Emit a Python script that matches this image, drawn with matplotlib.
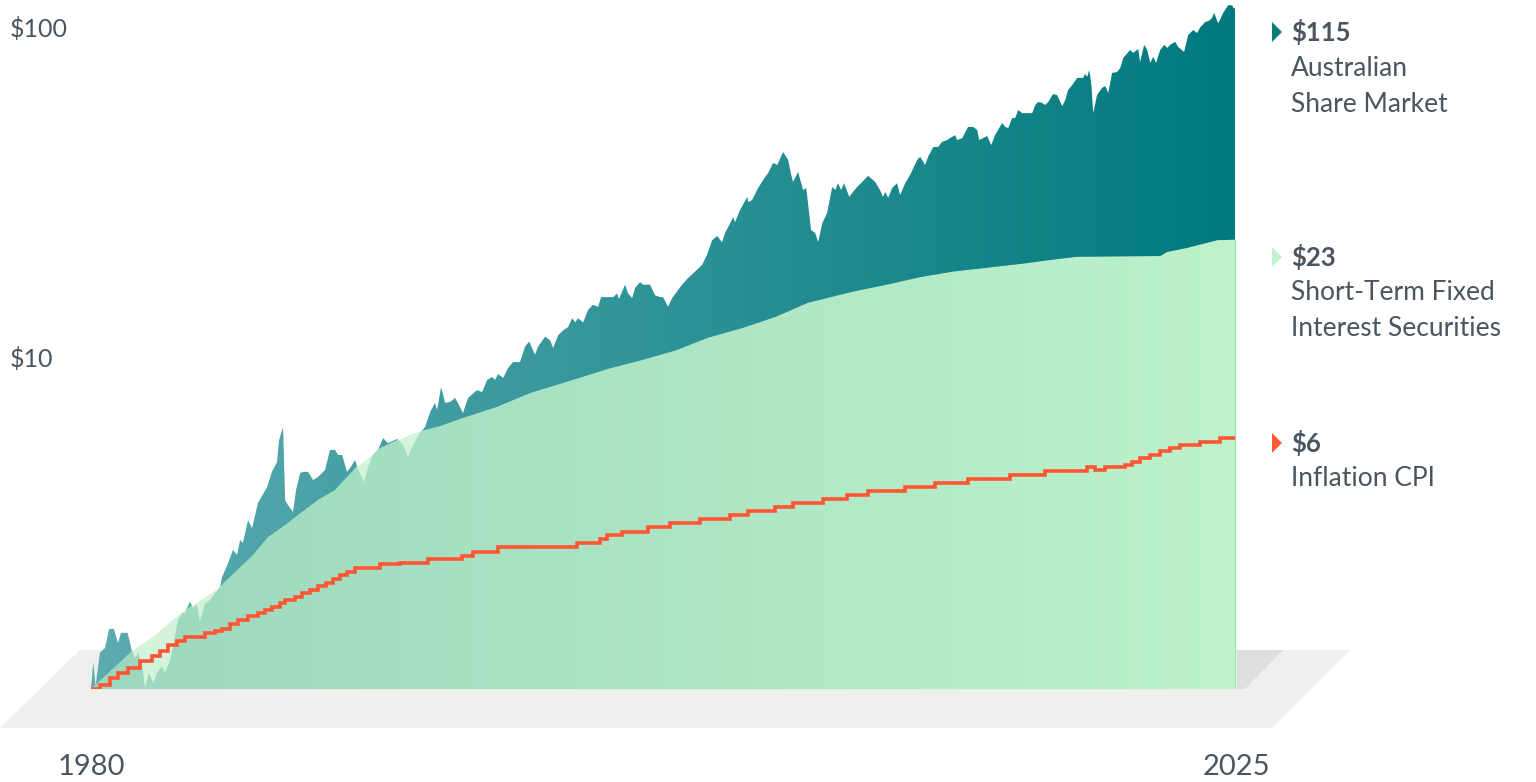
import numpy as np
import matplotlib
matplotlib.use("Agg")
import matplotlib.pyplot as plt
from matplotlib.colors import LinearSegmentedColormap
from matplotlib.patches import Polygon
from matplotlib.transforms import blended_transform_factory

# growth of $1 since 1980
share_years = [
    1980.00, 1980.09, 1980.18, 1980.35, 1980.55, 1980.71, 1980.90, 1981.06, 1981.18, 1981.44,
    1981.60, 1981.73, 1981.85, 1982.00, 1982.12, 1982.28, 1982.44, 1982.59, 1982.79, 1982.91,
    1983.11, 1983.22, 1983.42, 1983.58, 1983.69, 1983.89, 1984.01, 1984.17, 1984.28, 1984.48,
    1984.68, 1984.87, 1985.07, 1985.15, 1985.39, 1985.58, 1985.74, 1985.86, 1985.97, 1986.17,
    1986.33, 1986.56, 1986.92, 1987.11, 1987.31, 1987.39, 1987.55, 1987.63, 1987.74, 1987.94,
    1988.06, 1988.22, 1988.33, 1988.53, 1988.73, 1988.92, 1989.20, 1989.39, 1989.59, 1989.71,
    1989.87, 1990.06, 1990.18, 1990.38, 1990.50, 1990.73, 1990.89, 1991.08, 1991.28, 1991.48,
    1991.67, 1992.03, 1992.22, 1992.46, 1992.66, 1992.93, 1993.13, 1993.33, 1993.52, 1993.60,
    1993.76, 1993.92, 1994.11, 1994.31, 1994.50, 1994.62, 1994.82, 1995.17, 1995.37, 1995.57,
    1995.76, 1995.88, 1996.00, 1996.20, 1996.39, 1996.59, 1996.86, 1997.06, 1997.22, 1997.33,
    1997.45, 1997.57, 1997.85, 1998.04, 1998.16, 1998.36, 1998.55, 1998.75, 1998.91, 1999.03,
    1999.14, 1999.34, 1999.54, 1999.73, 1999.93, 2000.05, 2000.52, 2000.68, 2000.75, 2000.99,
    2001.11, 2001.27, 2001.38, 2001.58, 2001.70, 2001.97, 2002.17, 2002.37, 2002.48, 2002.68,
    2002.84, 2003.23, 2003.47, 2003.74, 2004.02, 2004.21, 2004.41, 2004.61, 2004.80, 2004.92,
    2005.24, 2005.31, 2005.51, 2005.79, 2005.83, 2005.98, 2006.22, 2006.42, 2006.61, 2006.81,
    2006.97, 2007.20, 2007.40, 2007.52, 2007.59, 2007.79, 2007.99, 2008.11, 2008.30, 2008.46,
    2008.58, 2008.74, 2008.93, 2009.13, 2009.25, 2009.36, 2009.48, 2009.60, 2009.80, 2009.95,
    2010.11, 2010.31, 2010.54, 2010.82, 2011.01, 2011.13, 2011.21, 2011.33, 2011.49, 2011.68,
    2011.80, 2012.00, 2012.19, 2012.47, 2012.59, 2012.78, 2012.90, 2013.10, 2013.29, 2013.45,
    2013.65, 2013.76, 2013.96, 2014.04, 2014.24, 2014.47, 2014.67, 2014.83, 2014.91, 2015.06,
    2015.22, 2015.38, 2015.53, 2015.81, 2015.93, 2016.05, 2016.20, 2016.32, 2016.44, 2016.60,
    2016.99, 2017.11, 2017.22, 2017.38, 2017.50, 2017.62, 2017.81, 2017.97, 2018.17, 2018.29,
    2018.40, 2018.56, 2018.76, 2018.99, 2019.07, 2019.15, 2019.23, 2019.31, 2019.39, 2019.54,
    2019.74, 2019.86, 2019.98, 2020.13, 2020.33, 2020.45, 2020.57, 2020.84, 2020.96, 2021.16,
    2021.23, 2021.39, 2021.51, 2021.63, 2021.75, 2021.86, 2022.02, 2022.18, 2022.30, 2022.41,
    2022.61, 2022.73, 2022.96, 2023.12, 2023.32, 2023.47, 2023.59, 2023.79, 2023.95, 2024.06,
    2024.14, 2024.30, 2024.50, 2024.69, 2024.85, 2024.89, 2025.00,
]
share_values = [
    1.00, 1.21, 1.02, 1.29, 1.33, 1.52, 1.52, 1.38, 1.48, 1.48,
    1.31, 1.24, 1.29, 1.20, 1.01, 1.12, 1.04, 1.12, 1.17, 1.12,
    1.22, 1.34, 1.62, 1.70, 1.70, 1.84, 1.76, 1.80, 1.60, 1.82,
    1.86, 1.95, 2.04, 2.18, 2.41, 2.64, 2.55, 2.83, 2.77, 3.25,
    3.07, 3.66, 4.09, 4.55, 4.87, 5.68, 6.22, 3.74, 3.61, 3.44,
    4.01, 4.51, 4.55, 4.55, 4.30, 4.39, 4.61, 5.30, 5.30, 5.12,
    5.12, 4.55, 4.67, 4.94, 4.61, 4.24, 4.71, 5.12, 5.30, 5.76,
    5.56, 5.72, 5.56, 5.05, 5.49, 5.97, 6.22, 6.91, 7.36, 7.00,
    8.23, 7.36, 7.41, 7.62, 7.16, 6.86, 7.62, 8.05, 7.94, 8.64,
    8.82, 8.64, 9.01, 8.76, 9.39, 9.79, 9.79, 10.9, 11.3, 10.8,
    10.3, 10.9, 11.7, 11.4, 10.8, 11.8, 12.2, 12.5, 13.3, 12.9,
    13.3, 12.9, 14.1, 14.6, 14.4, 15.4, 15.4, 15.8, 15.2, 16.8,
    15.8, 15.3, 16.4, 17.1, 16.8, 16.8, 15.6, 15.4, 15.4, 14.4,
    15.3, 16.8, 17.6, 18.4, 19.3, 20.7, 22.9, 23.6, 22.6, 24.1,
    26.9, 26.0, 28.3, 31.0, 29.9, 30.3, 33.0, 34.9, 36.6, 39.3,
    38.7, 42.4, 40.1, 36.1, 34.4, 36.9, 32.5, 33.0, 24.6, 24.1,
    22.6, 25.8, 27.7, 33.2, 32.5, 34.1, 32.5, 34.1, 31.0, 32.1,
    33.2, 34.4, 35.9, 34.4, 32.5, 31.0, 32.1, 30.8, 33.0, 34.1,
    31.4, 34.1, 36.1, 40.1, 41.0, 38.7, 41.0, 43.9, 43.9, 45.5,
    46.1, 46.7, 47.7, 46.1, 46.7, 50.5, 50.5, 49.4, 46.1, 46.7,
    47.4, 44.5, 47.7, 51.9, 50.5, 50.1, 53.7, 53.7, 56.8, 55.6,
    55.6, 58.8, 60.1, 59.7, 58.8, 60.1, 63.5, 63.1, 58.4, 60.9,
    65.3, 67.6, 71.1, 71.1, 73.1, 71.6, 75.1, 68.6, 55.6, 63.1,
    66.3, 67.2, 64.0, 73.6, 74.1, 76.2, 81.7, 86.4, 84.6, 87.0,
    79.4, 89.5, 86.4, 78.9, 82.3, 78.9, 86.4, 89.5, 87.6, 89.5,
    91.4, 88.2, 85.2, 95.9, 99.3, 97.2, 101, 105, 106, 108,
    112, 104, 112, 118, 118, 116, 115,
]

fixed_years = [
    1980.00, 1981.73, 1982.40, 1983.30, 1984.09, 1984.99, 1985.66, 1986.33, 1986.96, 1987.63,
    1988.29, 1988.92, 1989.59, 1990.38, 1990.77, 1991.36, 1992.03, 1992.66, 1993.72, 1994.62,
    1995.96, 1997.26, 1998.55, 2000.32, 2001.66, 2002.96, 2004.25, 2005.59, 2006.89, 2008.18,
    2009.95, 2011.29, 2012.59, 2013.88, 2015.22, 2016.52, 2017.81, 2018.76, 2022.02, 2022.30,
    2023.08, 2023.67, 2024.26, 2025.00,
]
fixed_values = [
    1.00, 1.33, 1.44, 1.65, 1.82, 2.02, 2.26, 2.53, 2.89, 3.14,
    3.44, 3.74, 4.01, 4.67, 4.94, 5.37, 5.68, 5.97, 6.26, 6.63,
    7.16, 7.89, 8.46, 9.33, 9.93, 10.6, 11.6, 12.4, 13.4, 14.8,
    16.0, 16.8, 17.7, 18.4, 18.9, 19.4, 20.0, 20.4, 20.5, 21.1,
    21.7, 22.3, 22.9, 23.0,
]

cpi_years = [
    1980.00, 1980.35, 1980.75, 1981.06, 1981.45, 1981.93, 1982.40, 1982.71, 1983.03, 1983.38,
    1983.69, 1984.48, 1984.87, 1985.15, 1985.46, 1985.78, 1986.17, 1986.56, 1986.84, 1987.11,
    1987.43, 1987.63, 1988.02, 1988.29, 1988.61, 1988.92, 1989.24, 1989.51, 1989.79, 1990.06,
    1990.38, 1991.36, 1992.15, 1993.25, 1994.58, 1995.02, 1996.00, 1999.10, 2000.01, 2000.28,
    2000.87, 2001.89, 2002.76, 2003.94, 2005.12, 2005.83, 2006.89, 2007.59, 2008.77, 2009.72,
    2010.54, 2012.00, 2013.18, 2014.47, 2016.12, 2017.50, 2019.15, 2019.47, 2019.86, 2020.64,
    2020.92, 2021.23, 2021.63, 2022.02, 2022.41, 2022.81, 2023.59, 2024.38, 2025.00,
]
cpi_values = [
    1.00, 1.03, 1.08, 1.12, 1.16, 1.22, 1.26, 1.30, 1.36, 1.40,
    1.44, 1.48, 1.50, 1.52, 1.57, 1.62, 1.66, 1.70, 1.74, 1.77,
    1.82, 1.86, 1.90, 1.95, 1.99, 2.05, 2.10, 2.15, 2.22, 2.26,
    2.33, 2.39, 2.41, 2.48, 2.53, 2.60, 2.69, 2.77, 2.85, 2.93,
    2.99, 3.10, 3.18, 3.27, 3.37, 3.46, 3.56, 3.66, 3.76, 3.87,
    3.98, 4.09, 4.21, 4.33, 4.45, 4.58, 4.71, 4.61, 4.71, 4.77,
    4.87, 5.01, 5.12, 5.27, 5.37, 5.49, 5.61, 5.76, 5.76,
]

end_labels = ["$115", "$23", "$6"]
series_names = [["Australian", "Share Market"],
                ["Short-Term Fixed", "Interest Securities"],
                ["Inflation CPI"]]
series_colors = ["#007b7f", "#c2f1cf", "#ff5a3a"]
y_ticks = [100, 10]
y_tick_labels = ["$100", "$10"]
x_ticks = [1980, 2025]

plt.rcParams["font.family"] = ["Lato", "DejaVu Sans"]
text_col = "#4a5560"

W, H = 1536, 782
fig = plt.figure(figsize=(W / 100, H / 100), dpi=100)

# background axes in pixel units for the floor and the side labels
bg = fig.add_axes([0, 0, 1, 1])
bg.set_xlim(0, W)
bg.set_ylim(H, 0)
bg.axis("off")
bg.add_patch(Polygon([(80, 650), (1350, 650), (1272, 728), (0, 728)], fc="#efefef", ec="none"))
bg.add_patch(Polygon([(1237, 650), (1283, 650), (1245, 689), (1237, 689)], fc="#dedede", ec="none"))

ax = fig.add_axes([91 / W, (H - 689) / H, (1236 - 91) / W, 689 / H])
ax.set_yscale("log")
ymax = 10 ** (689 / 330)

grid = np.union1d(np.linspace(1980, 2025, 3000), np.union1d(share_years, fixed_years))
share_g = 10 ** np.interp(grid, share_years, np.log10(share_values))
fixed_g = 10 ** np.interp(grid, fixed_years, np.log10(fixed_values))
low_g = np.minimum(share_g, fixed_g)

teal = LinearSegmentedColormap.from_list("teal", ["#5cacb1", "#007a7e"])
mint = LinearSegmentedColormap.from_list("mint", ["#9cd8be", "#bdf2ca"])


def gradient_fill(top, cmap, z):
    coll = ax.fill_between(grid, 1, top, color="none", lw=0)
    im = ax.imshow(np.linspace(0, 1, 256)[None, :], cmap=cmap, aspect="auto",
                   extent=[1980, 2025, 1, ymax], origin="lower", zorder=z,
                   interpolation="bilinear")
    im.set_clip_path(coll.get_paths()[0], ax.transData)


gradient_fill(share_g, teal, 1)
ax.fill_between(grid, 1, fixed_g, color="#d3f4da", lw=0, zorder=2)
gradient_fill(low_g, mint, 3)
ax.step(cpi_years, cpi_values, where="post", color="#ff5533", lw=2.6, zorder=4,
        solid_joinstyle="miter")
ax.vlines(2025, 1, fixed_values[-1], color="#8fdcb2", lw=1.2, zorder=5)

ax.set_xlim(1980, 2025)
ax.set_ylim(1, ymax)
ax.axis("off")

# axis labels
ty = blended_transform_factory(bg.transData, ax.transData)
for v, s in zip(y_ticks, y_tick_labels):
    ax.text(10, v, s, transform=ty, ha="left", va="center", fontsize=18,
            color=text_col)
tx = blended_transform_factory(ax.transData, bg.transData)
for yr in x_ticks:
    ax.text(yr, 767, str(yr), transform=tx, ha="center", va="center", fontsize=21,
            color=text_col)

# end labels
label_y = [32, 257, 443]
for yc, val, names, col in zip(label_y, end_labels, series_names, series_colors):
    bg.add_patch(Polygon([(1272, yc - 10), (1282, yc), (1272, yc + 10)], fc=col, ec="none"))
    bg.text(1291, yc, val, ha="left", va="center", fontsize=18.5, fontweight="bold",
            color=text_col)
    for i, line in enumerate(names):
        bg.text(1291, yc + 36 * (i + 1), line, ha="left", va="center", fontsize=19,
                color=text_col)

fig.savefig("out.png", dpi=100)
